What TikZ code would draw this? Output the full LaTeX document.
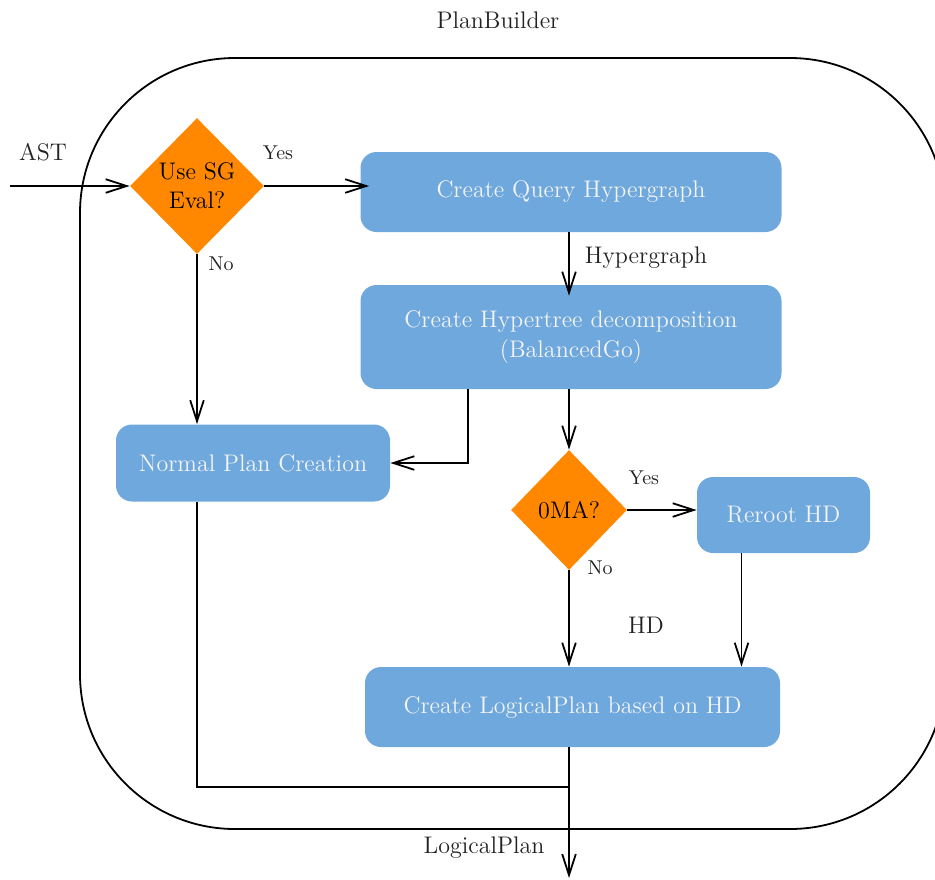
\documentclass[tikz,border=0pt]{standalone}
\usetikzlibrary{shapes.geometric,arrows.meta,calc}
\definecolor{boxblue}{HTML}{6FA8DC}
\definecolor{decorange}{HTML}{FF8800}
\definecolor{boxtext}{HTML}{F4F4F4}
\definecolor{labeltext}{HTML}{222222}
\tikzset{
  flow/.style={line width=0.9pt, -{Straight Barb[length=10.5pt,width=6.8pt,line width=0.9pt]}},
  plain/.style={line width=0.9pt},
  procbox/.style={rectangle, rounded corners=8pt, fill=boxblue, text=boxtext,
    font=\fontsize{12}{15}\selectfont, align=center, inner sep=0pt},
  decision/.style={diamond, fill=decorange, text=black, inner sep=0pt,
    font=\fontsize{12}{14.5}\selectfont, align=center},
  lbl/.style={text=labeltext, font=\fontsize{12}{15}\selectfont, inner sep=0pt},
  smalllbl/.style={text=labeltext, font=\fontsize{10}{12}\selectfont, inner sep=0pt},
}
\begin{document}
\begin{tikzpicture}[x=0.5pt,y=-0.5pt]
\useasboundingbox (0,0) rectangle (935,879);

% enclosing PlanBuilder frame
\draw[plain, rounded corners=77.5pt] (80,58) rectangle (945,829);
\node[lbl] (title) at (498,20) {PlanBuilder};

% decisions
\node[decision, minimum width=67pt, minimum height=68pt] (sg) at (197,186) {Use SG\\Eval?};
\node[decision, minimum width=58pt, minimum height=60pt] (oma) at (569,510) {0MA?};

% processing steps
\node[procbox, minimum width=210.5pt, minimum height=40pt] (qh) at (571,192) {Create Query Hypergraph};
\node[procbox, minimum width=210.5pt, minimum height=52pt] (hd) at (571,337) {Create Hypertree decomposition\\(BalancedGo)};
\node[procbox, minimum width=137pt, minimum height=38.5pt] (np) at (253,463) {Normal Plan Creation};
\node[procbox, minimum width=86.5pt, minimum height=38pt] (rr) at (783.5,515) {Reroot HD};
\node[procbox, minimum width=207.5pt, minimum height=40pt] (lp) at (572.5,707) {Create LogicalPlan based on HD};

% free ends and junction
\coordinate (in) at (10,186);
\coordinate (out) at (569,878);
\coordinate (merge) at (569,787);

% connectors
\draw[flow] (in) -- (sg.west);
\node[lbl] (ast) at (43,152) {AST};

\draw[flow] (sg.east) -- ([xshift=4.5pt]sg.east -| qh.west);
\node[smalllbl] (yes1) at (278,153) {Yes};

\draw[flow] (sg.south) -- (sg.south |- np.north);
\node[smalllbl] (no1) at (221,264) {No};

\draw[flow] ([xshift=-1pt]qh.south) -- ([xshift=-1pt,yshift=-5.5pt]hd.north);
\node[lbl] (hgl) at (646,258) {Hypergraph};

\draw[flow] ([xshift=-51.5pt]hd.south) |- (np.east);
\draw[flow] ([xshift=-1pt]hd.south) -- (oma.north);

\draw[flow] (oma.east) -- (oma.east -| rr.west);
\node[smalllbl] (yes2) at (644,478) {Yes};

\draw[flow] (oma.south) -- (oma.south |- lp.north);
\node[smalllbl] (no2) at (600,568) {No};
\node[lbl] (hdl) at (646,625) {HD};

\draw[flow] ([xshift=-21pt]rr.south) coordinate (rrb) -- (rrb |- lp.north);

\draw[flow] (lp.south -| merge) -- (out);
\draw[plain] (np.south -| sg.south) |- (merge);
\node[lbl] (lpl) at (484,848) {LogicalPlan};
\end{tikzpicture}
\end{document}
